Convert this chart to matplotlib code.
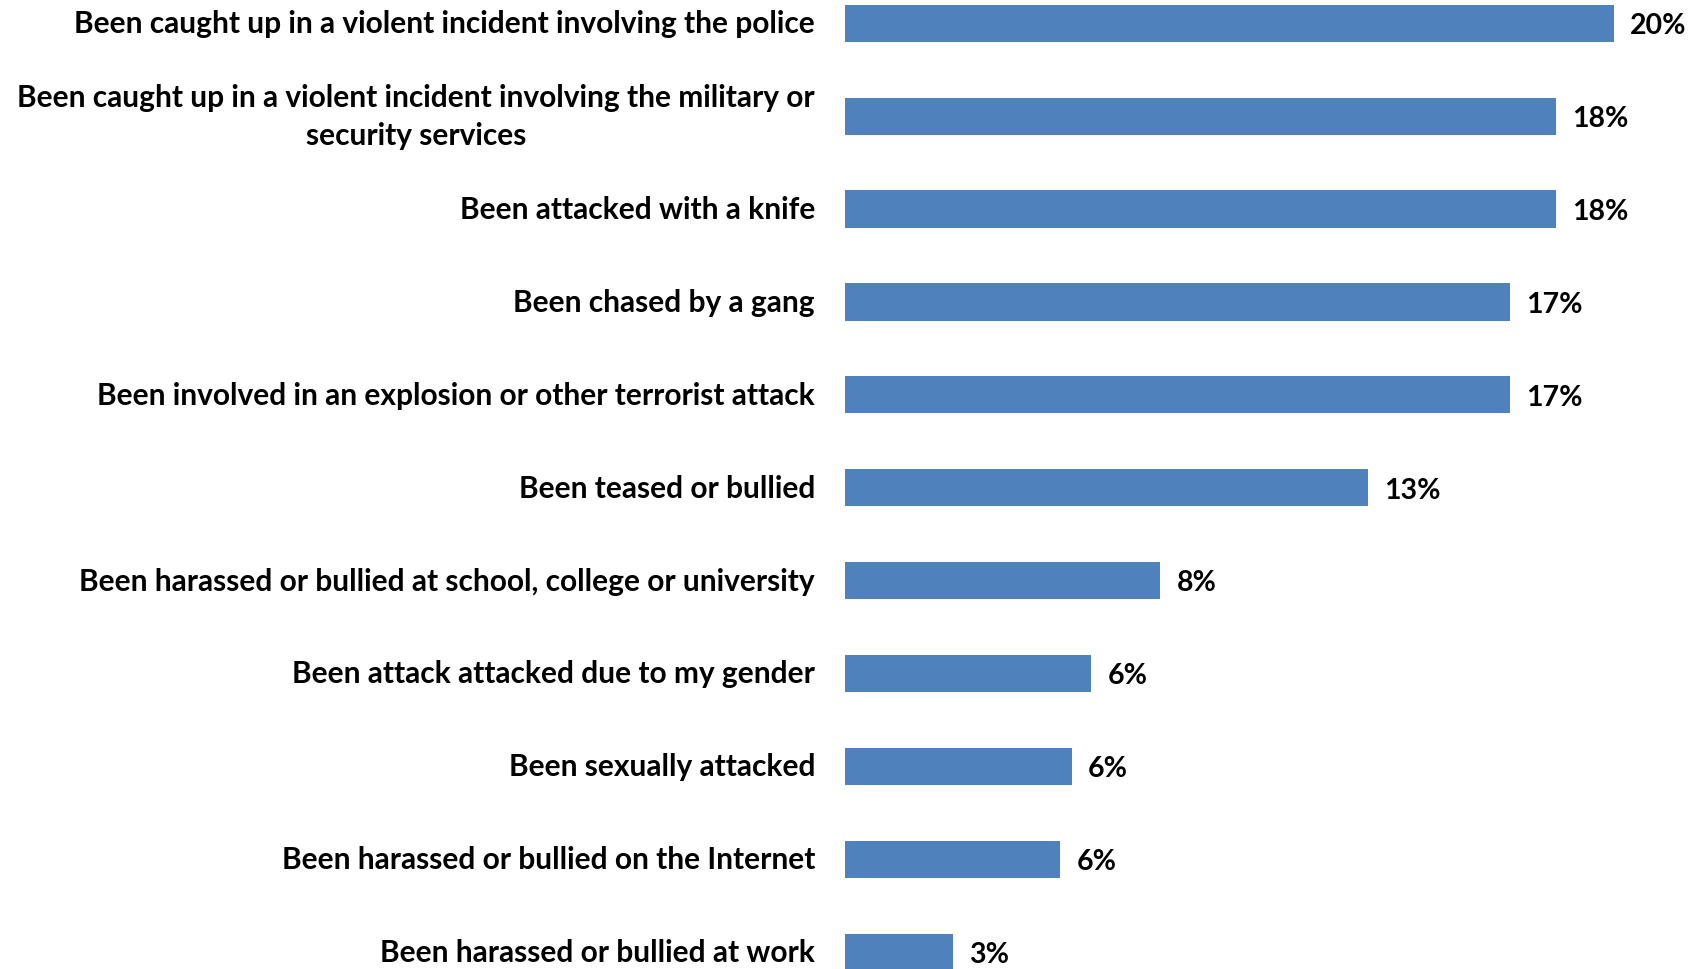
import matplotlib
matplotlib.use("Agg")
import matplotlib.pyplot as plt
import numpy as np

categories = [
    "Been caught up in a violent incident involving the police",
    "Been caught up in a violent incident involving the military or\nsecurity services",
    "Been attacked with a knife",
    "Been chased by a gang",
    "Been involved in an explosion or other terrorist attack",
    "Been teased or bullied",
    "Been harassed or bullied at school, college or university",
    "Been attack attacked due to my gender",
    "Been sexually attacked",
    "Been harassed or bullied on the Internet",
    "Been harassed or bullied at work",
]
values = [20.0, 18.5, 18.5, 17.3, 17.3, 13.6, 8.2, 6.4, 5.9, 5.6, 2.8]
value_labels = ["20%", "18%", "18%", "17%", "17%", "13%", "8%", "6%", "6%", "6%", "3%"]

plt.rcParams['font.family'] = ['Lato', 'DejaVu Sans']

fig = plt.figure(figsize=(16.95, 9.69), dpi=100)
ax = fig.add_axes([845 / 1695, 0, 846 / 1695, 1])

y = np.arange(len(categories))
ax.barh(y, values, height=0.4, color='#4F81BD')
ax.set_xlim(0, 22)
ax.set_ylim(10.18, -0.25)

# value labels sit a touch below the bar centre, like in the source
for yi, v, lab in zip(y, values, value_labels):
    ax.text(v + 0.42, yi + 0.03, lab, va='center', ha='left', fontsize=20.5, fontweight='bold')

for yi, cat in zip(y, categories):
    ax.text(-0.78, yi + 0.01, cat, va='center', ha='right', multialignment='center',
            fontsize=21.5, fontweight='bold', linespacing=1.45)

ax.axis('off')
fig.savefig('out.png', dpi=100)
